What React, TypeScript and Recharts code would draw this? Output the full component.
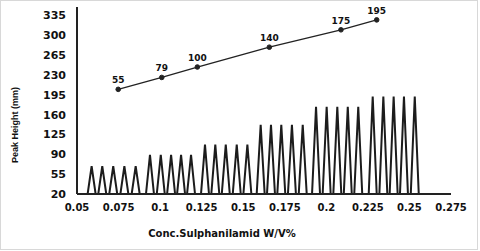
import React from "react";
import { LineChart, Line, XAxis, YAxis, LabelList } from "recharts";

// axis ticks
const xTicks = [0.05, 0.075, 0.1, 0.125, 0.15, 0.175, 0.2, 0.225, 0.25, 0.275];
const yTicks = [20, 55, 90, 125, 160, 195, 230, 265, 300, 335];

// FIA trace: peak centres (5 injections per standard) and peak tops
const peakPositions = [
  [0.0588, 0.0652, 0.0718, 0.0785, 0.0853],
  [0.0939, 0.1004, 0.1066, 0.1126, 0.1186],
  [0.127, 0.1332, 0.1395, 0.1461, 0.1525],
  [0.1605, 0.1667, 0.1729, 0.1793, 0.1858],
  [0.1938, 0.2002, 0.2066, 0.2129, 0.2192],
  [0.2279, 0.2343, 0.2405, 0.2467, 0.2532],
];
const peakTops = [69, 89, 107, 142, 174, 192];
const baseline = 20;
const traceStart = 0.05;
const traceEnd = 0.2575;
const halfWidth = 0.0024;

// calibration line (secondary scale)
const calConc = [0.0748, 0.101, 0.1224, 0.1657, 0.2088, 0.2303];
const calHeight = [55, 79, 100, 140, 175, 195];

const trace: { x: number; y: number }[] = [{ x: traceStart, y: baseline }];
peakPositions.forEach((group, i) => {
  group.forEach((c) => {
    trace.push({ x: c - halfWidth, y: baseline });
    trace.push({ x: c, y: peakTops[i] });
    trace.push({ x: c + halfWidth, y: baseline });
  });
});
trace.push({ x: traceEnd, y: baseline });

const calData = calConc.map((x, i) => ({ x, v: calHeight[i] }));

const tickFont = { fontFamily: "DejaVu Sans", fontWeight: "bold", fill: "#111" };

const YTitle = () => (
  <text
    x={15}
    y={125}
    transform="rotate(-90 15 125)"
    textAnchor="middle"
    dominantBaseline="central"
    style={{ fontFamily: "Liberation Sans", fontWeight: "bold", fontSize: 9, fill: "#111" }}
  >
    Peak Height (mm)
  </text>
);

const XTitle = () => (
  <text
    x={222}
    y={233}
    textAnchor="middle"
    dominantBaseline="central"
    style={{ fontFamily: "DejaVu Sans", fontWeight: "bold", fontSize: 10, fill: "#111" }}
  >
    Conc.Sulphanilamid W/V%
  </text>
);

export default function App() {
  return (
    <div style={{ position: "absolute", left: 0, top: 0, width: 480, height: 251, background: "#fff" }}>
      <div
        style={{
          position: "absolute", left: 0, top: 0, width: 476, height: 248,
          border: "1px solid #d8d8d8",
        }}
      />
      <LineChart width={480} height={251} margin={{ top: 7, right: 29, bottom: 0, left: 0 }}>
        <XAxis
          type="number"
          dataKey="x"
          domain={[0.05, 0.275]}
          ticks={xTicks}
          interval={0}
          height={57}
          tickLine={false}
          tickSize={0}
          tickMargin={10}
          axisLine={{ stroke: "#222", strokeWidth: 2 }}
          tick={{ ...tickFont, fontSize: 10 }}
          tickFormatter={(v: number) => String(+v.toFixed(3))}
          label={<XTitle />}
        />
        <YAxis
          yAxisId="left"
          type="number"
          domain={[20, 350]}
          ticks={yTicks}
          interval={0}
          width={77}
          tickLine={false}
          tickSize={0}
          tickMargin={11}
          axisLine={{ stroke: "#222", strokeWidth: 2 }}
          tick={{ ...tickFont, fontSize: 11 }}
          label={<YTitle />}
        />
        <YAxis yAxisId="right" orientation="right" hide domain={[-156, 221]} />
        <Line
          yAxisId="left"
          data={trace}
          dataKey="y"
          type="linear"
          stroke="#1c1c1c"
          strokeWidth={2}
          dot={false}
          isAnimationActive={false}
        />
        <Line
          yAxisId="right"
          data={calData}
          dataKey="v"
          type="linear"
          stroke="#222"
          strokeWidth={1.3}
          dot={{ r: 2.3, fill: "#222", stroke: "#222", strokeWidth: 1 }}
          isAnimationActive={false}
        >
          <LabelList
            dataKey="v"
            position="top"
            offset={6}
            style={{ fontFamily: "DejaVu Sans", fontWeight: "bold", fontSize: 9, fill: "#111" }}
          />
        </Line>
      </LineChart>
    </div>
  );
}
